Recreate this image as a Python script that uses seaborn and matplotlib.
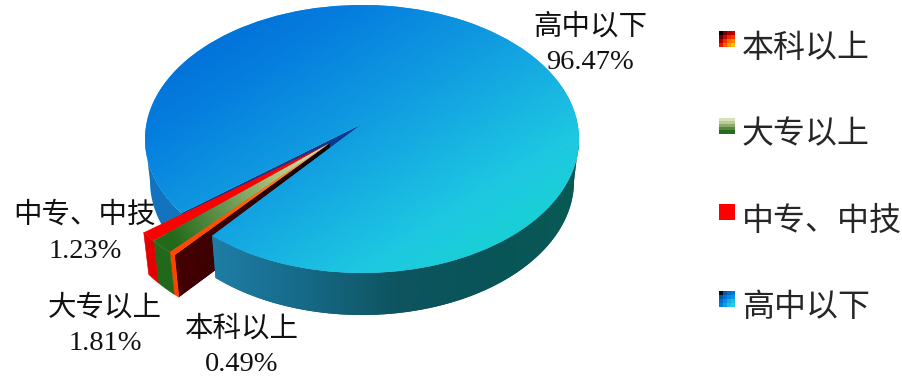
import numpy as np
import matplotlib
matplotlib.use("Agg")
import matplotlib.pyplot as plt
from matplotlib.font_manager import FontProperties
from matplotlib.legend_handler import HandlerBase
from matplotlib.patches import Patch, Polygon, Rectangle
import seaborn as sns

# Education levels, in clockwise order from the pulled-out slices to the main slice
levels = ["本科以上", "大专以上", "中专、中技", "高中以下"]
shares = [0.49, 1.81, 1.23, 96.47]

FIG_W, FIG_H = 903, 377
PIE_X, PIE_Y = 362, 139        # pie centre, pixels from top-left
RX, RY = 217, 134              # pie semi-axes, pixels
START_ANGLE = 226.3
PULL = 0.225                   # how far the small slices are pulled out
PULL_ANGLE = 219.8
# tilt moves each apex away from the ellipse centre
MAIN_APEX_SHIFT = np.array([0 / RX, 15 / RY])
SMALL_APEX_SHIFT = np.array([5 / RX, 15 / RY])
DEPTH = 42 / RY                # height of the disc
DEPTH_XSCALE = 0.977           # lower rim is slightly narrower

sns.set_theme(style="white")
plt.rcParams["font.family"] = ["Liberation Serif", "Noto Sans CJK SC"]

rgb = lambda *c: tuple(v / 255 for v in c)
main_top = sns.blend_palette([rgb(0, 100, 210), rgb(5, 125, 222), rgb(18, 160, 225),
                              rgb(30, 200, 225), rgb(20, 218, 200)], as_cmap=True)
main_side = sns.blend_palette([rgb(30, 125, 165), rgb(22, 105, 135), rgb(14, 84, 96),
                               rgb(8, 84, 88), rgb(8, 90, 84)], as_cmap=True)
green_top = sns.blend_palette([rgb(240, 232, 200), rgb(175, 195, 125), rgb(105, 150, 80),
                               rgb(35, 105, 25)], as_cmap=True)
orange_top = sns.blend_palette([rgb(255, 215, 130), rgb(255, 130, 20), rgb(255, 85, 0),
                                rgb(255, 70, 0)], as_cmap=True)
cut_face = sns.blend_palette([rgb(70, 0, 4), rgb(50, 0, 0), rgb(10, 0, 0)], as_cmap=True)

fig = plt.figure(figsize=(FIG_W / 100, FIG_H / 100), dpi=100, facecolor="white")
ax = fig.add_axes([0, 0, 1, 1])

wedges, _ = ax.pie(shares, startangle=START_ANGLE, counterclock=False, radius=1,
                   wedgeprops={"linewidth": 0})
ax.set_aspect("auto")
XLIM = (-PIE_X / RX, (FIG_W - PIE_X) / RX)
YLIM = ((PIE_Y - FIG_H) / RY, PIE_Y / RY)


def rim(center, t1, t2, n=120):
    t = np.radians(np.linspace(t1, t2, n))
    return np.column_stack([center[0] + np.cos(t), center[1] + np.sin(t)])


def lowered(pts):
    out = np.array(pts, float)
    out[:, 0] *= DEPTH_XSCALE
    out[:, 1] -= DEPTH
    return out


def wall(top_edge, z):
    poly = Polygon(np.vstack([top_edge, lowered(top_edge)[::-1]]), closed=True,
                   linewidth=0, zorder=z)
    ax.add_patch(poly)
    return poly


def shade(patch, cmap, field, z):
    """Paint a colour field over a patch, clipped to the patch outline."""
    gx, gy = np.meshgrid(np.linspace(*XLIM, 500), np.linspace(*YLIM, 300))
    img = ax.imshow(field(gx, gy), extent=(*XLIM, *YLIM), origin="lower", cmap=cmap,
                    vmin=0, vmax=1, aspect="auto", zorder=z, interpolation="bilinear")
    img.set_clip_path(patch)


def move_apex(wedge, apex):
    verts = wedge.get_path().vertices
    hit = np.hypot(*(verts - np.asarray(wedge.center)).T) < 1e-9
    verts[hit] = apex


main = wedges[3]
small = wedges[:3]

# Pull the three small slices out together
pull = np.radians(PULL_ANGLE)
offset = PULL * np.array([np.cos(pull), np.sin(pull)])
for w in small:
    w.set_center(tuple(offset))
small_apex = offset + SMALL_APEX_SHIFT
main_apex = MAIN_APEX_SHIFT.copy()

diag = lambda x, y: np.clip(((x * RX + 217) / 434 + (PIE_Y - y * RY) / 270) / 2, 0, 1)
across = lambda x, y: np.clip((x + 0.68) / 1.68, 0, 1)
radial = lambda x, y: np.clip(np.hypot(x - small_apex[0], (y - small_apex[1]) * RY / RX) / 0.85, 0, 1)

# The main slice runs clockwise from the gap, so its angles are theta2 (left of the gap)
# down through 0 to theta1 (right of the gap)
back = wall(rim((0, 0), 180, main.theta2), 1)
back.set_facecolor(rgb(18, 116, 190))

# Cut face of the main slice seen through the gap
edge_pt = rim((0, 0), main.theta2, main.theta2, 1)
gap_wall = wall(np.vstack([edge_pt, main_apex]), 2)
gap_wall.set_facecolor(rgb(10, 58, 140))

# Rim and radial cut face of the pulled slices
side_colors = [rgb(255, 66, 0), rgb(34, 104, 26), rgb(226, 0, 0)]
orange, green, red = small
face_edge = np.vstack([rim(offset, orange.theta2, orange.theta2, 1), small_apex])
face = wall(face_edge, 3)
face.set_facecolor(rgb(60, 0, 0))
shade(face, cut_face, lambda x, y: np.clip((x + 0.87) / 0.72, 0, 1), 3.1)
for w, col in zip(small, side_colors):
    side = wall(rim(offset, w.theta1, w.theta2), 4)
    side.set(facecolor=col, edgecolor=col, linewidth=0.4)

# Top faces of the pulled slices
for w in small:
    move_apex(w, small_apex)
    w.set_zorder(5)
orange.set_facecolor(rgb(255, 85, 0))
green.set_facecolor(rgb(120, 160, 90))
red.set_facecolor(rgb(255, 0, 0))
shade(green, green_top, radial, 5.1)
shade(orange, orange_top, radial, 5.1)

# Front wall and top of the main slice
front = wall(rim((0, 0), main.theta1, 0), 6)
front.set_facecolor(rgb(14, 84, 96))
shade(front, main_side, across, 6.1)
move_apex(main, main_apex)
main.set_zorder(7)
main.set_facecolor(rgb(20, 160, 225))
shade(main, main_top, diag, 7.1)

ax.set_xlim(*XLIM)
ax.set_ylim(*YLIM)
ax.set_axis_off()

# Slice labels
label_px = {"高中以下": (590, 44), "中专、中技": (85, 233),
            "大专以上": (105, 325), "本科以上": (242, 346)}
label_font = FontProperties(family=["Liberation Serif", "Noto Sans CJK SC"], size=20.5, weight="light")
for name, value in zip(levels, shares):
    px, py = label_px[name]
    ax.text((px - PIE_X) / RX, (PIE_Y - py) / RY, f"{name}\n{value:.2f}%",
            ha="center", va="center", fontproperties=label_font, color="#111111",
            linespacing=1.5, zorder=10)


class BlockHandler(HandlerBase):
    """Legend key made of a small grid of flat colour blocks."""

    def __init__(self, blocks):
        super().__init__()
        self.blocks = blocks

    def create_artists(self, legend, orig, xd, yd, width, height, fontsize, trans):
        rows, cols = len(self.blocks), len(self.blocks[0])
        size = 11.5
        y0 = -yd + height / 2 - size / 2 + 4.6
        artists = []
        for r, row in enumerate(self.blocks):
            for c, col in enumerate(row):
                artists.append(Rectangle((-xd + c * size / cols, y0 + (rows - 1 - r) * size / rows),
                                         size / cols + 0.2, size / rows + 0.2,
                                         facecolor=rgb(*col), linewidth=0, transform=trans))
        return artists


key_blocks = [
    [[(10, 0, 0), (120, 0, 0), (170, 0, 0), (190, 0, 0)],
     [(110, 0, 0), (190, 10, 0), (235, 40, 0), (245, 50, 0)],
     [(170, 0, 0), (240, 50, 0), (255, 110, 0), (255, 130, 0)],
     [(235, 20, 0), (255, 90, 0), (255, 150, 0), (255, 190, 0)]],
    [[(215, 225, 185)], [(185, 205, 150)], [(140, 170, 105)], [(85, 135, 60)], [(40, 105, 30)]],
    [[(255, 0, 0)]],
    [[(5, 10, 20), (0, 90, 170), (0, 110, 205), (0, 120, 215)],
     [(0, 90, 170), (0, 115, 210), (5, 135, 220), (10, 150, 222)],
     [(0, 110, 205), (8, 140, 222), (20, 175, 225), (25, 190, 225)],
     [(0, 125, 215), (15, 160, 225), (28, 195, 225), (28, 210, 225)]],
]
handles = [Patch(label=name) for name in levels]
ax.legend(handles=handles, labels=levels, loc="upper left",
          bbox_to_anchor=(719 / FIG_W, 1 - 31.5 / FIG_H), bbox_transform=fig.transFigure,
          frameon=False, borderpad=0, borderaxespad=0, handlelength=0.5, handleheight=1,
          handletextpad=0.22, labelspacing=1.7,
          prop=FontProperties(family=["Noto Sans CJK SC"], size=23, weight="light"),
          handler_map={h: BlockHandler(b) for h, b in zip(handles, key_blocks)})

fig.savefig("out.png", dpi=100)
